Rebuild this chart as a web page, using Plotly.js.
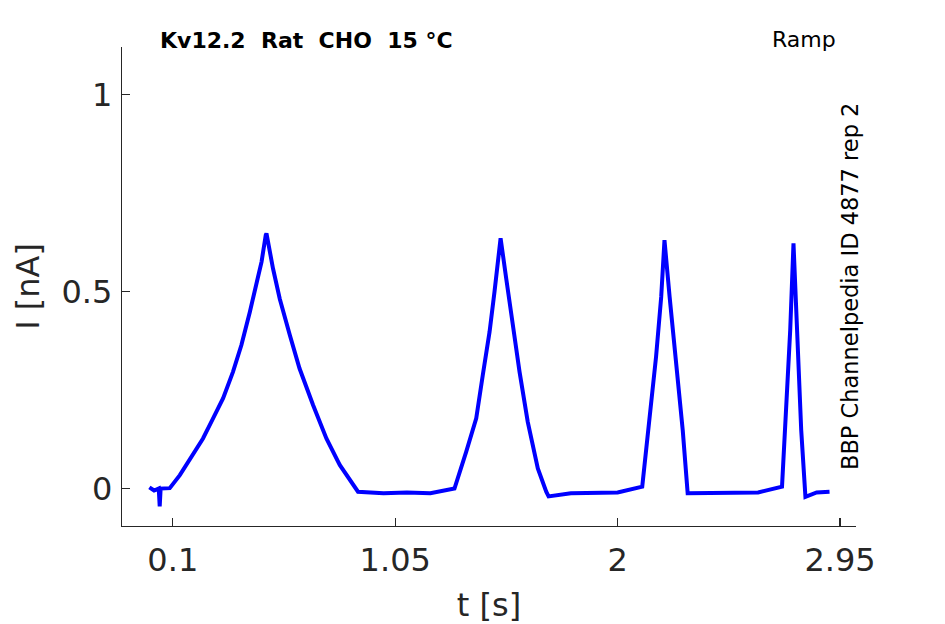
<!DOCTYPE html>
<html>
<head>
<meta charset="utf-8">
<script src="https://cdn.plot.ly/plotly-3.0.1.min.js"></script>
<style>
  html, body { margin: 0; padding: 0; background: #fff; }
  #chart { width: 945px; height: 624px; }
</style>
</head>
<body>
<div id="chart"></div>
<script>
// current trace (t in s, I in nA)
const tValues = [
  0, 0.02, 0.04, 0.044, 0.048, 0.07, 0.087,
  0.13, 0.187, 0.229, 0.272, 0.315, 0.357, 0.393, 0.429, 0.457, 0.479, 0.497,
  0.5, 0.528, 0.557, 0.6, 0.641, 0.699, 0.756, 0.813, 0.87, 0.891,
  1.0, 1.1, 1.2, 1.303,
  1.353, 1.396, 1.424, 1.453, 1.474, 1.5,
  1.524, 1.552, 1.581, 1.616, 1.659, 1.695, 1.705,
  1.8, 1.9, 2.0, 2.105,
  2.136, 2.164, 2.186, 2.2,
  2.222, 2.25, 2.278, 2.299,
  2.4, 2.5, 2.6, 2.702,
  2.72, 2.737, 2.751,
  2.765, 2.784, 2.802,
  2.85, 2.905
];
const iValues = [
  0.003, -0.005, 0.0, -0.045, 0.0, 0.002, 0.001,
  0.034, 0.085, 0.127, 0.178, 0.229, 0.296, 0.364, 0.448, 0.516, 0.575, 0.643,
  0.647, 0.558, 0.481, 0.389, 0.305, 0.212, 0.127, 0.06, 0.009, -0.008,
  -0.012, -0.01, -0.012, 0.0,
  0.093, 0.178, 0.288, 0.398, 0.499, 0.635,
  0.533, 0.415, 0.296, 0.169, 0.051, -0.008, -0.02,
  -0.012, -0.01, -0.01, 0.005,
  0.182, 0.334, 0.486, 0.63,
  0.486, 0.318, 0.148, -0.012,
  -0.012, -0.01, -0.01, 0.005,
  0.191, 0.402, 0.622,
  0.402, 0.148, -0.021,
  -0.01, -0.008
];
const xTicks = [0.1, 1.05, 2, 2.95];
const xTickText = ["0.1", "1.05", "2", "2.95"];
const yTicks = [0, 0.5, 1];
const yTickText = ["0", "0.5", "1"];

const axisColor = "#262626";

const data = [
  {
    x: tValues,
    y: iValues,
    type: "scatter",
    mode: "lines",
    line: { color: "#0000ff", width: 4 },
    hoverinfo: "skip",
  },
];

const layout = {
  width: 945,
  height: 624,
  margin: { l: 122, r: 89, t: 47, b: 98, pad: 0 },
  paper_bgcolor: "#ffffff",
  plot_bgcolor: "#ffffff",
  showlegend: false,
  font: { family: "DejaVu Sans", color: axisColor, size: 32 },
  xaxis: {
    range: [-0.117, 3.018],
    tickvals: xTicks,
    ticktext: xTickText,
    ticks: "inside",
    ticklen: 8,
    tickwidth: 1.3,
    tickcolor: axisColor,
    showline: true,
    linecolor: axisColor,
    linewidth: 1.3,
    showgrid: false,
    zeroline: false,
    ticklabelstandoff: 5,
    tickfont: { size: 32, color: axisColor },
    title: { text: "t [s]", font: { size: 32, color: axisColor }, standoff: 16 },
  },
  yaxis: {
    range: [-0.095, 1.12],
    tickvals: yTicks,
    ticktext: yTickText,
    ticks: "inside",
    ticklen: 8,
    tickwidth: 1.3,
    tickcolor: axisColor,
    showline: true,
    linecolor: axisColor,
    linewidth: 1.3,
    showgrid: false,
    zeroline: false,
    ticklabelstandoff: 2,
    tickfont: { size: 32, color: axisColor },
    title: { text: "I [nA]", font: { size: 32, color: axisColor }, standoff: 12 },
  },
  annotations: [
    {
      text: "<b>Kv12.2\u00a0\u00a0Rat\u00a0\u00a0CHO\u00a0\u00a015\u00a0°C</b>",
      xref: "paper", yref: "paper",
      x: 0.049, y: 1.0146,
      xanchor: "left", yanchor: "middle",
      showarrow: false,
      font: { size: 22, color: "#000000" },
    },
    {
      text: "Ramp",
      xref: "paper", yref: "paper",
      x: 0.9755, y: 1.0165,
      xanchor: "right", yanchor: "middle",
      showarrow: false,
      font: { size: 22, color: "#000000" },
    },
    {
      text: "BBP Channelpedia ID 4877 rep 2",
      xref: "paper", yref: "paper",
      x: 0.9918, y: 0.501,
      xanchor: "center", yanchor: "middle",
      textangle: -90,
      showarrow: false,
      font: { size: 22.5, color: "#000000" },
    },
  ],
};

const config = {
  displaylogo: false,
  displayModeBar: false,
  staticPlot: true,
};

Plotly.newPlot("chart", data, layout, config);
</script>
</body>
</html>
